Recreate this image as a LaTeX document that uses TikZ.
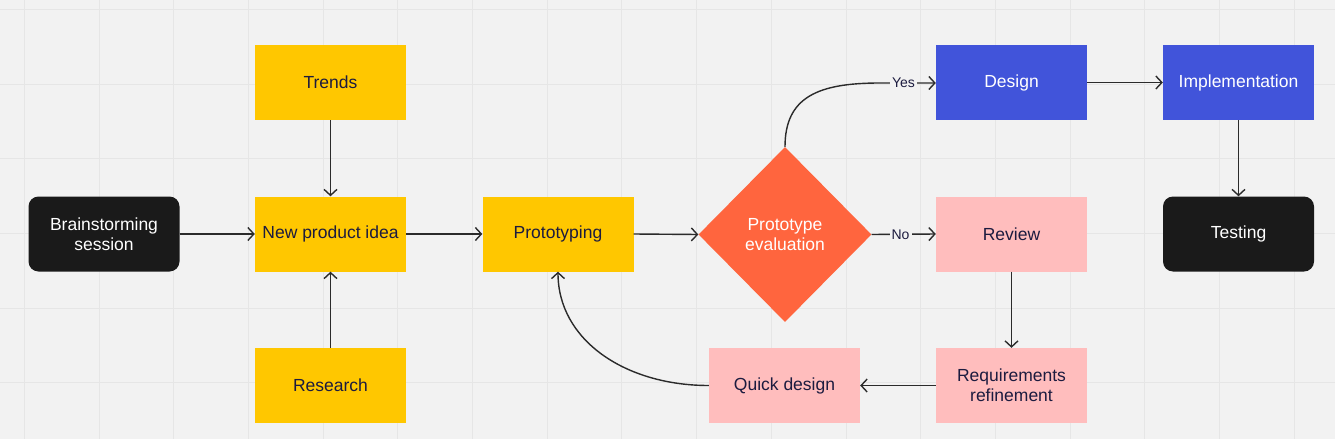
\documentclass[tikz,border=0pt]{standalone}
\usepackage{fontspec}
\setmainfont{Liberation Sans}
\usetikzlibrary{shapes.geometric,arrows.meta}
\definecolor{bgc}{HTML}{F2F2F2}
\definecolor{gridc}{HTML}{E6E6E6}
\definecolor{yel}{HTML}{FFC700}
\definecolor{blu}{HTML}{4154DA}
\definecolor{pnk}{HTML}{FFBDBD}
\definecolor{org}{HTML}{FF653E}
\definecolor{blk}{HTML}{1A1A1A}
\definecolor{navy}{HTML}{1C1B3F}
\definecolor{linec}{HTML}{2B2B2B}
\tikzset{
  box/.style={rectangle, minimum width=151pt, minimum height=75pt, inner sep=0pt, align=center,
    font=\fontsize{17.5}{20}\selectfont},
  yelbox/.style={box, fill=yel, text=navy},
  blubox/.style={box, fill=blu, text=white},
  pnkbox/.style={box, fill=pnk, text=navy},
  blkbox/.style={box, fill=blk, text=white, rounded corners=10pt},
  decision/.style={diamond, fill=org, text=white, minimum width=173pt, minimum height=175pt,
    inner sep=0pt, align=center, font=\fontsize{17.5}{20}\selectfont},
  conn/.style={draw=linec, line width=1.4pt, -{Straight Barb[length=6pt,width=13pt,line width=1.4pt]}},
  lab/.style={fill=bgc, text=navy, inner sep=2pt, font=\fontsize{14}{16}\selectfont}
}
\begin{document}
\begin{tikzpicture}[x=1pt,y=-1pt]
\fill[bgc] (0,0) rectangle (1335,439);
\useasboundingbox (0,0) rectangle (1335,439);
\foreach \i in {0,...,17} {\draw[gridc, line width=1pt] (24.3+74.7*\i,0) -- (24.3+74.7*\i,439);}
\foreach \j in {0,...,5} {\draw[gridc, line width=1pt] (0,9.3+74.7*\j) -- (1335,9.3+74.7*\j);}

\node[blkbox] (brain) at (104,234) {Brainstorming\\session};
\node[yelbox] (trends) at (330.5,82.5) {Trends};
\node[yelbox] (npi) at (330.5,234) {New product idea};
\node[yelbox] (research) at (330.5,385.5) {Research};
\node[yelbox] (proto) at (558,234) {Prototyping};
\node[decision] (eval) at (785,234.5) {Prototype\\evaluation};
\node[blubox] (design) at (1011.5,82.5) {Design};
\node[blubox] (impl) at (1238.5,82.5) {Implementation};
\node[pnkbox] (review) at (1011.5,234) {Review};
\node[blkbox] (testing) at (1238.5,234) {Testing};
\node[pnkbox] (req) at (1011.5,385.5) {Requirements\\refinement};
\node[pnkbox] (quick) at (784.5,385.5) {Quick design};
\coordinate (yesc) at (880,83);

\draw[conn] (brain.east) -- (npi.west);
\draw[conn] (trends.south) -- (npi.north);
\draw[conn] (research.north) -- (npi.south);
\draw[conn] (npi.east) -- (proto.west);
\draw[conn] (proto.east) -- (eval.west);
\draw[conn] (eval.north) .. controls (785,97) and (818,83) .. (yesc) -- node[lab, pos=0.42]{Yes} (design.west |- yesc);
\draw[conn] (eval.east) -- node[lab, pos=0.45]{No} (review.west);
\draw[conn] (design.east) -- (impl.west);
\draw[conn] (impl.south) -- (testing.north);
\draw[conn] (review.south) -- (req.north);
\draw[conn] (req.west) -- (quick.east);
\draw[conn] (quick.west) .. controls (625,385.5) and (558,340) .. (proto.south);
\end{tikzpicture}
\end{document}
